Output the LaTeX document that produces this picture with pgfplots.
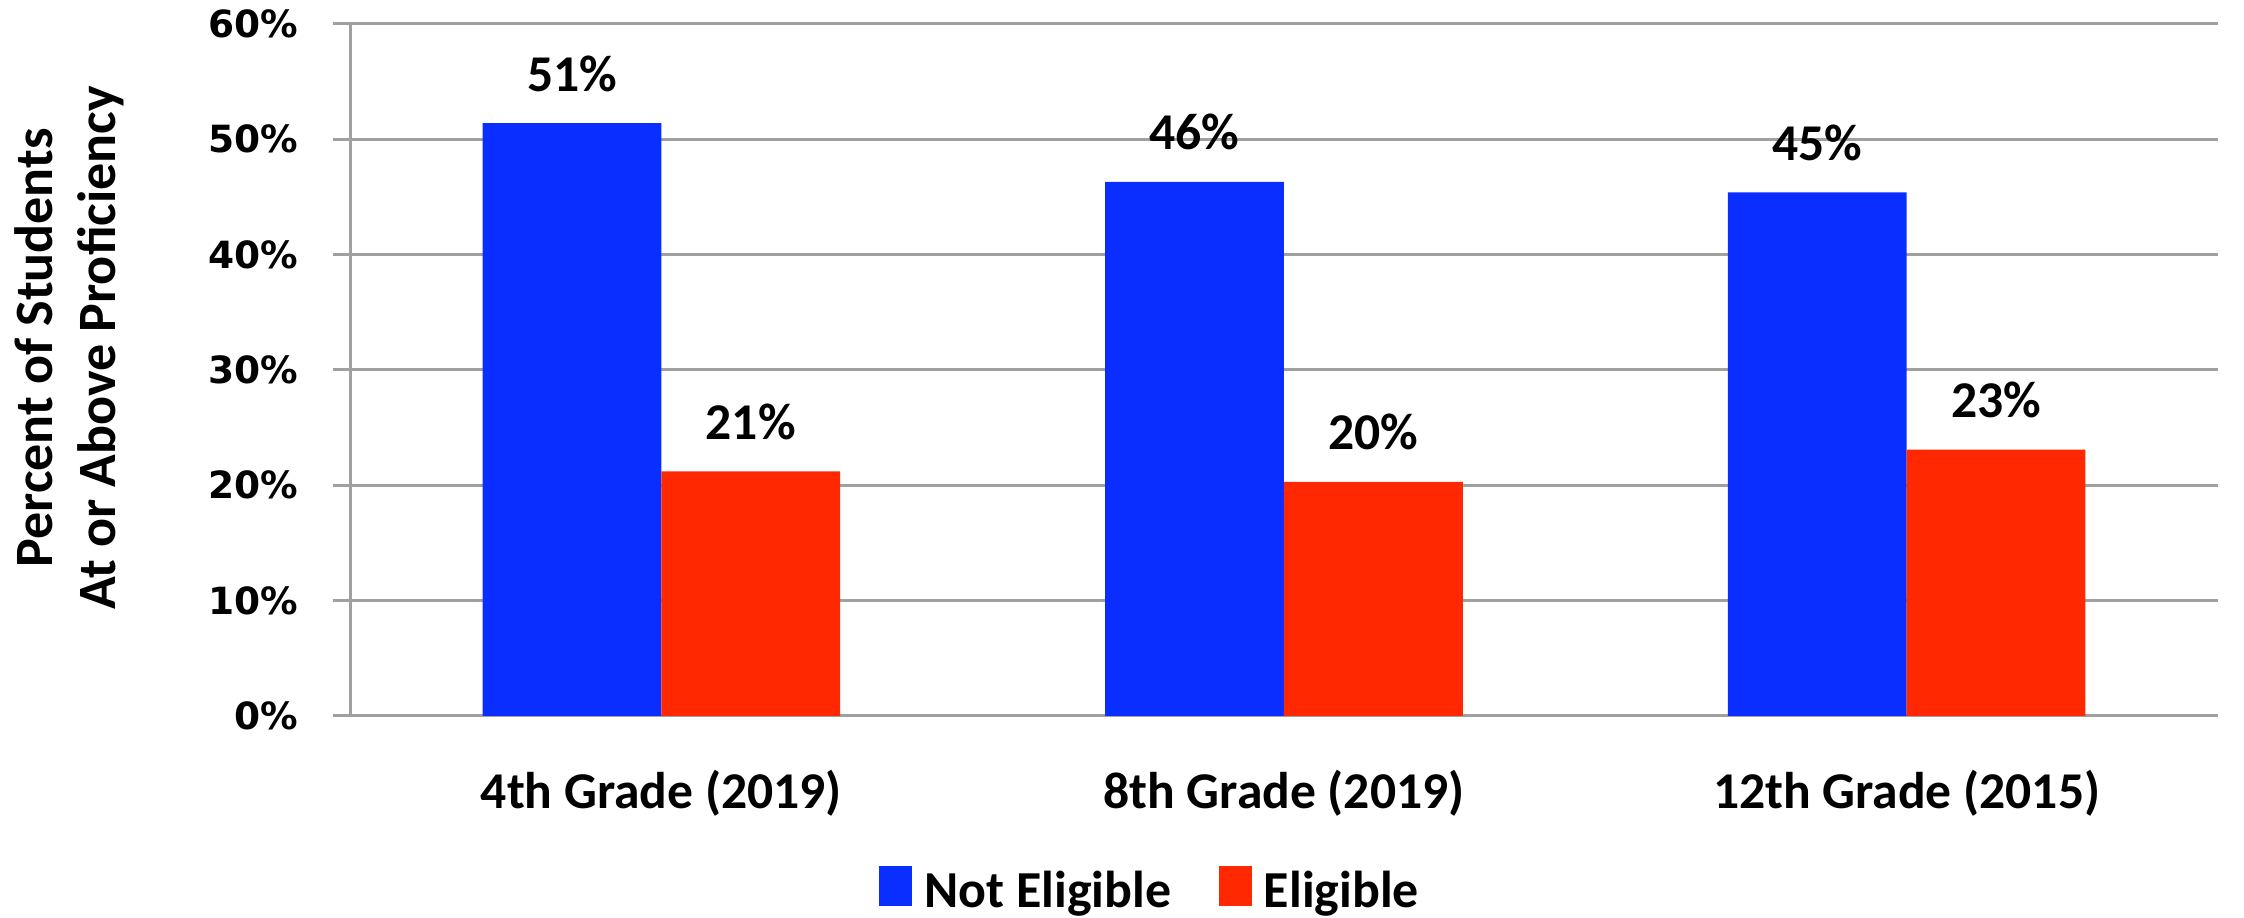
\documentclass[border=0pt]{standalone}
\usepackage{pgfplots}
\pgfplotsset{compat=1.18}
\usepackage{fontspec}
\setmainfont{Carlito}
\newfontfamily\tickfont{DejaVu Sans}
\definecolor{barblue}{RGB}{10,46,255}
\definecolor{barred}{RGB}{255,40,0}
\definecolor{gridgray}{RGB}{160,160,160}
\begin{document}
\begin{tikzpicture}
\begin{axis}[
  name=ax,
  scale only axis,
  width=622.7pt, height=230.7pt,
  ybar, bar width=59.6pt,
  xmin=-0.5, xmax=2.5, ymin=0, ymax=60,
  axis lines*=left,
  axis line style={gridgray, line width=1pt},
  xtick={0,1,2},
  xticklabels={4th Grade (2019),8th Grade (2019),12th Grade (2015)},
  xtick style={draw=none},
  xticklabel style={font=\fontsize{17.2}{20}\selectfont\bfseries, yshift=-9pt},
  extra x ticks={-0.5,0.5,1.5,2.5},
  extra x tick labels={},
  extra x tick style={tick align=outside, major tick length=5.7pt, grid=none, tick style={gridgray, line width=0.7pt, draw=gridgray}},
  ytick={0,10,20,30,40,50,60},
  yticklabels={0\%,10\%,20\%,30\%,40\%,50\%,60\%},
  yticklabel style={font=\tickfont\bfseries\fontsize{12.5}{14}\selectfont, xshift=-8pt},
  tick align=outside, major tick length=5.7pt,
  ytick style={gridgray, line width=1pt},
  ymajorgrids, grid style={gridgray, line width=1pt},
  ylabel={Percent of Students\\At or Above Proficiency},
  ylabel style={align=center, font=\fontsize{18}{21}\selectfont\bfseries, at={(axis description cs:-0.1505,0.532)}, anchor=center},
  nodes near coords={\pgfmathprintnumber[fixed,precision=0,assume math mode=true]{\pgfplotspointmeta}\%},
  every node near coord/.append style={font=\fontsize{17.2}{20}\selectfont\bfseries, text=black, yshift=7pt},
  legend style={at={(0.431,-0.253)}, anchor=center, draw=none, legend columns=-1, font=\fontsize{17.3}{20}\selectfont\bfseries, /tikz/every even column/.append style={column sep=12pt}, nodes={inner xsep=4pt}},
  legend image code/.code={\fill[#1] (0pt,-5pt) rectangle (11pt,8.5pt);},
  clip=false,
]
\addplot[fill=barblue, draw=none, bar shift=-29.8pt] coordinates {(0,51.4) (1,46.3) (2,45.4)};
\addplot[fill=barred, draw=none, bar shift=29.8pt] coordinates {(0,21.2) (1,20.3) (2,23.1)};
\legend{Not Eligible, Eligible}
\end{axis}
\pgfresetboundingbox
\path[use as bounding box] ([xshift=-116.7pt, yshift=-67.3pt] ax.south west) rectangle ([xshift=8.7pt, yshift=8pt] ax.north east);
\end{tikzpicture}
\end{document}
